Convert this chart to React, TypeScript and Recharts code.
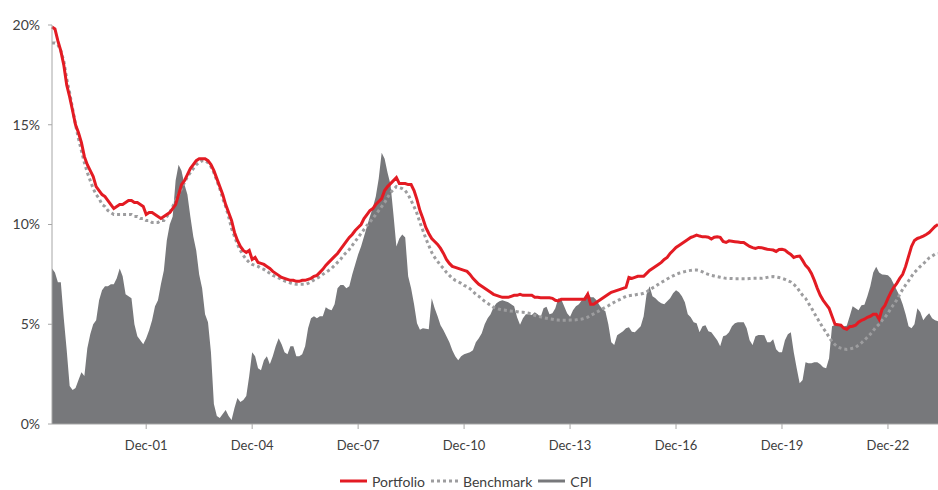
import { ComposedChart, Area, Line, XAxis, YAxis, Legend } from "recharts";

const MONTHS = ["Jan", "Feb", "Mar", "Apr", "May", "Jun", "Jul", "Aug", "Sep", "Oct", "Nov", "Dec"];
const START_YEAR = 1999;
const START_MONTH = 3; // Apr-99

// monthly values, one row per 12 months starting Apr-99
const portfolio = [
  19.9, 19.8, 19.2, 18.7, 18.0, 17.0, 16.4, 15.7, 15.0, 14.6, 14.1, 13.4,
  13.0, 12.7, 12.4, 11.9, 11.7, 11.5, 11.4, 11.2, 11.0, 10.8, 10.9, 11.0,
  11.0, 11.1, 11.2, 11.2, 11.1, 11.1, 11.0, 10.9, 10.5, 10.6, 10.6, 10.5,
  10.4, 10.3, 10.4, 10.5, 10.6, 10.8, 11.0, 11.5, 12.0, 12.2, 12.5, 12.8,
  13.0, 13.2, 13.3, 13.3, 13.3, 13.2, 13.0, 12.7, 12.3, 11.9, 11.5, 11.0,
  10.6, 10.2, 9.6, 9.2, 8.9, 8.7, 8.6, 8.7, 8.25, 8.35, 8.1, 8.05,
  8.0, 7.9, 7.8, 7.65, 7.55, 7.45, 7.35, 7.3, 7.25, 7.2, 7.2, 7.15,
  7.15, 7.2, 7.2, 7.25, 7.3, 7.4, 7.45, 7.6, 7.75, 7.95, 8.1, 8.25,
  8.4, 8.55, 8.75, 8.95, 9.15, 9.35, 9.5, 9.7, 9.85, 10.0, 10.3, 10.5,
  10.7, 10.8, 11.0, 11.15, 11.3, 11.7, 11.9, 12.05, 12.2, 12.35, 12.05, 12.05,
  12.05, 12.0, 12.0, 11.7, 11.25, 10.7, 10.3, 9.85, 9.55, 9.3, 9.15, 9.0,
  8.8, 8.55, 8.25, 8.05, 7.9, 7.85, 7.8, 7.75, 7.7, 7.65, 7.5, 7.3,
  7.15, 7.0, 6.9, 6.8, 6.7, 6.6, 6.5, 6.45, 6.4, 6.35, 6.35, 6.35,
  6.4, 6.45, 6.45, 6.5, 6.45, 6.45, 6.45, 6.45, 6.35, 6.35, 6.33, 6.33,
  6.33, 6.33, 6.3, 6.2, 6.17, 6.25, 6.25, 6.25, 6.25, 6.25, 6.25, 6.25,
  6.25, 6.25, 6.5, 6.0, 6.0, 6.1, 6.2, 6.3, 6.4, 6.5, 6.6, 6.65,
  6.7, 6.75, 6.8, 6.85, 7.35, 7.3, 7.35, 7.4, 7.4, 7.4, 7.55, 7.7,
  7.8, 7.9, 8.0, 8.1, 8.25, 8.35, 8.55, 8.7, 8.85, 8.95, 9.05, 9.15,
  9.25, 9.35, 9.4, 9.47, 9.42, 9.38, 9.38, 9.36, 9.27, 9.36, 9.39, 9.36,
  9.15, 9.1, 9.18, 9.16, 9.14, 9.12, 9.1, 9.1, 9.0, 8.9, 8.84, 8.8,
  8.85, 8.84, 8.8, 8.76, 8.74, 8.72, 8.65, 8.75, 8.76, 8.72, 8.6, 8.5,
  8.35, 8.4, 8.42, 8.2, 7.95, 7.8, 7.55, 7.2, 6.8, 6.45, 6.2, 6.0,
  5.8, 5.4, 5.0, 4.98, 4.95, 4.8, 4.75, 4.88, 4.9, 4.95, 5.1, 5.2,
  5.25, 5.35, 5.4, 5.5, 5.5, 5.25, 5.75, 5.95, 6.3, 6.6, 6.85, 7.05,
  7.3, 7.5, 7.9, 8.4, 8.9, 9.2, 9.3, 9.35, 9.42, 9.5, 9.6, 9.75,
  9.9, 10.0,
];

const benchmark = [
  19.1, 19.1, 19.0, 18.7, 18.2, 17.3, 16.6, 15.8, 15.0, 14.3, 13.7, 13.1,
  12.6, 12.2, 11.8, 11.5, 11.3, 11.0, 10.9, 10.7, 10.6, 10.5, 10.5, 10.5,
  10.5, 10.5, 10.5, 10.5, 10.4, 10.4, 10.3, 10.3, 10.2, 10.2, 10.1, 10.1,
  10.1, 10.2, 10.2, 10.4, 10.6, 10.9, 11.2, 11.5, 11.8, 12.1, 12.4, 12.6,
  12.8, 13.0, 13.1, 13.2, 13.2, 13.1, 12.9, 12.6, 12.2, 11.8, 11.3, 10.9,
  10.4, 9.8, 9.4, 9.0, 8.7, 8.45, 8.25, 8.1, 8.0, 7.95, 7.9, 7.8,
  7.75, 7.65, 7.55, 7.45, 7.4, 7.32, 7.25, 7.17, 7.12, 7.07, 7.03, 7.0,
  7.0, 7.0, 7.0, 7.05, 7.12, 7.22, 7.3, 7.38, 7.5, 7.6, 7.7, 7.8,
  7.95, 8.1, 8.25, 8.45, 8.6, 8.75, 8.95, 9.15, 9.35, 9.55, 9.75, 9.95,
  10.12, 10.3, 10.5, 10.7, 10.9, 11.1, 11.35, 11.6, 11.75, 11.9, 11.85, 11.8,
  11.7, 11.5, 11.2, 10.9, 10.55, 10.1, 9.7, 9.3, 8.95, 8.6, 8.35, 8.15,
  7.95, 7.8, 7.6, 7.45, 7.3, 7.2, 7.13, 7.05, 6.95, 6.88, 6.78, 6.65,
  6.5, 6.4, 6.27, 6.15, 6.05, 5.95, 5.85, 5.8, 5.75, 5.72, 5.7, 5.68,
  5.66, 5.65, 5.63, 5.6, 5.6, 5.58, 5.55, 5.5, 5.45, 5.4, 5.37, 5.33,
  5.3, 5.27, 5.25, 5.22, 5.21, 5.2, 5.2, 5.2, 5.21, 5.21, 5.22, 5.24,
  5.26, 5.3, 5.35, 5.45, 5.52, 5.6, 5.68, 5.77, 5.85, 5.93, 6.02, 6.1,
  6.18, 6.25, 6.33, 6.4, 6.43, 6.45, 6.47, 6.5, 6.52, 6.55, 6.62, 6.72,
  6.82, 6.9, 7.0, 7.1, 7.18, 7.27, 7.35, 7.43, 7.5, 7.56, 7.6, 7.64,
  7.68, 7.7, 7.72, 7.72, 7.69, 7.63, 7.55, 7.5, 7.45, 7.42, 7.39, 7.36,
  7.33, 7.3, 7.3, 7.29, 7.28, 7.28, 7.28, 7.28, 7.28, 7.29, 7.3, 7.3,
  7.3, 7.3, 7.32, 7.35, 7.38, 7.39, 7.37, 7.34, 7.3, 7.25, 7.18, 7.12,
  7.0, 6.87, 6.65, 6.45, 6.3, 6.05, 5.82, 5.55, 5.3, 5.05, 4.8, 4.6,
  4.35, 4.13, 3.98, 3.86, 3.8, 3.76, 3.74, 3.76, 3.8, 3.84, 3.95, 4.07,
  4.2, 4.35, 4.5, 4.68, 4.87, 5.0, 5.2, 5.35, 5.55, 5.8, 6.0, 6.22,
  6.5, 6.75, 6.97, 7.17, 7.4, 7.6, 7.75, 7.9, 8.03, 8.17, 8.33, 8.42,
  8.52, 8.55,
];

const cpi = [
  7.8, 7.6, 7.1, 7.1, 5.3, 3.7, 1.9, 1.7, 1.8, 2.2, 2.6, 2.4,
  3.8, 4.5, 5.0, 5.2, 6.2, 6.7, 6.9, 6.9, 7.0, 7.0, 7.3, 7.8,
  7.4, 6.5, 6.4, 6.3, 5.0, 4.4, 4.2, 4.0, 4.3, 4.7, 5.2, 5.9,
  6.2, 7.0, 7.7, 9.2, 10.0, 10.4, 12.2, 13.0, 12.7, 12.0, 11.5, 10.4,
  9.4, 8.7, 7.5, 6.8, 5.5, 5.1, 3.6, 1.0, 0.4, 0.3, 0.5, 0.7,
  0.4, 0.2, 0.8, 1.3, 1.1, 1.2, 1.4, 2.4, 3.6, 3.4, 2.8, 2.7,
  3.2, 3.4, 3.0, 3.4, 3.9, 4.3, 4.0, 3.6, 3.5, 3.9, 3.9, 3.4,
  3.4, 3.5, 3.9, 4.8, 5.3, 5.4, 5.3, 5.4, 5.4, 5.85, 5.75, 5.7,
  6.0, 6.8, 6.97, 6.97, 6.8, 6.9, 7.5, 8.0, 8.5, 8.9, 9.4, 9.9,
  10.4, 10.85, 11.4, 12.3, 13.6, 13.3, 12.6, 12.0, 10.5, 8.9, 9.3, 9.5,
  9.35, 7.4, 6.8, 6.0, 5.05, 4.72, 4.8, 4.78, 4.75, 6.3, 5.8, 5.4,
  4.95, 4.7, 4.4, 4.1, 3.7, 3.4, 3.2, 3.4, 3.5, 3.55, 3.6, 3.7,
  4.1, 4.3, 4.55, 5.0, 5.3, 5.5, 5.85, 6.05, 6.15, 6.2, 6.15, 6.1,
  6.0, 5.9, 5.35, 4.97, 5.3, 5.5, 5.5, 5.46, 5.6, 5.5, 5.35, 5.8,
  5.88, 5.5, 5.55, 5.8, 6.3, 6.25, 5.9, 5.55, 5.38, 5.7, 5.9, 6.0,
  6.2, 6.4, 6.6, 6.35, 6.35, 6.2, 5.95, 5.75, 5.65, 5.0, 4.1, 3.96,
  4.45, 4.55, 4.65, 4.8, 4.85, 4.63, 4.6, 4.75, 4.9, 5.4, 6.5, 6.9,
  6.4, 6.3, 6.15, 6.05, 6.0, 6.15, 6.3, 6.55, 6.7, 6.6, 6.4, 6.1,
  5.5, 5.35, 5.1, 5.05, 4.6, 4.9, 4.95, 4.65, 4.6, 4.4, 4.2, 3.9,
  4.4, 4.45, 4.6, 4.9, 5.05, 5.1, 5.1, 5.1, 4.8, 4.2, 3.96, 4.4,
  4.46, 4.46, 4.45, 4.1, 4.1, 4.25, 3.75, 3.6, 3.6, 4.2, 4.5, 4.6,
  3.6, 2.8, 2.04, 2.2, 3.1, 3.05, 3.05, 3.1, 3.1, 3.0, 2.85, 2.8,
  3.3, 4.9, 4.96, 4.96, 4.95, 4.9, 4.92, 5.4, 5.9, 5.8, 5.7, 5.95,
  5.98, 6.4, 6.9, 7.6, 7.88, 7.6, 7.5, 7.48, 7.45, 7.3, 7.0, 6.7,
  6.4, 6.0, 5.5, 4.9, 4.8, 5.0, 5.8, 5.6, 5.2, 5.4, 5.55, 5.3,
  5.2, 5.15,
];

const tickLabels = ["Dec-01", "Dec-04", "Dec-07", "Dec-10", "Dec-13", "Dec-16", "Dec-19", "Dec-22"];
const yTicks = [0, 5, 10, 15, 20];

const RED = "#e31b23";
const DOT_GREY = "#9d9d9f";
const CPI_GREY = "#77787b";
const TEXT = "#404040";

const months = portfolio.map((_, i) => {
  const m = START_MONTH + i;
  const yr = (START_YEAR + Math.floor(m / 12)) % 100;
  return `${MONTHS[m % 12]}-${String(yr).padStart(2, "0")}`;
});

const data = months.map((month, i) => ({
  idx: i,
  month,
  portfolio: portfolio[i],
  benchmark: benchmark[i],
  cpi: cpi[i],
}));

const xTicks = tickLabels.map((l) => months.indexOf(l));

const legendItems = [
  { name: "Portfolio", color: RED, dash: undefined },
  { name: "Benchmark", color: DOT_GREY, dash: "3 3" },
  { name: "CPI", color: CPI_GREY, dash: undefined },
];

const ChartLegend = () => (
  <div
    style={{
      display: "flex",
      justifyContent: "center",
      alignItems: "center",
      height: 18,
      fontSize: 14,
      color: TEXT,
      fontFamily: "Lato",
    }}
  >
    {legendItems.map((it) => (
      <div key={it.name} style={{ display: "flex", alignItems: "center", marginRight: 6 }}>
        <svg width={27} height={8} style={{ marginRight: 5 }}>
          <line x1={0} y1={4} x2={27} y2={4} stroke={it.color} strokeWidth={3} strokeDasharray={it.dash} />
        </svg>
        <span>{it.name}</span>
      </div>
    ))}
  </div>
);

export default function App() {
  return (
    <div style={{ position: "absolute", left: 0, top: 0 }}>
      <ComposedChart
        width={938}
        height={490}
        data={data}
        margin={{ top: 25, right: 0, bottom: 0, left: 0 }}
        style={{ fontFamily: "Lato" }}
      >
        <XAxis
          dataKey="idx"
          type="number"
          domain={[0, portfolio.length - 1]}
          ticks={xTicks}
          tickFormatter={(v) => months[v]}
          interval={0}
          height={48}
          tickSize={5}
          tickMargin={12}
          stroke="#a6a6a6"
          tick={{ fill: TEXT, fontSize: 13 }}
        />
        <YAxis
          domain={[0, 20]}
          ticks={yTicks}
          tickFormatter={(v) => `${v}%`}
          width={52}
          tickSize={4}
          tickMargin={8}
          stroke="#a6a6a6"
          tick={{ fill: TEXT, fontSize: 14 }}
        />
        <Legend verticalAlign="bottom" height={18} content={() => <ChartLegend />} />
        <Area
          dataKey="cpi"
          name="CPI"
          type="linear"
          fill={CPI_GREY}
          fillOpacity={1}
          stroke="none"
          isAnimationActive={false}
        />
        <Line
          dataKey="benchmark"
          name="Benchmark"
          type="linear"
          stroke={DOT_GREY}
          strokeWidth={3}
          strokeDasharray="3 3"
          dot={false}
          isAnimationActive={false}
        />
        <Line
          dataKey="portfolio"
          name="Portfolio"
          type="linear"
          stroke={RED}
          strokeWidth={3}
          dot={false}
          isAnimationActive={false}
        />
      </ComposedChart>
    </div>
  );
}
